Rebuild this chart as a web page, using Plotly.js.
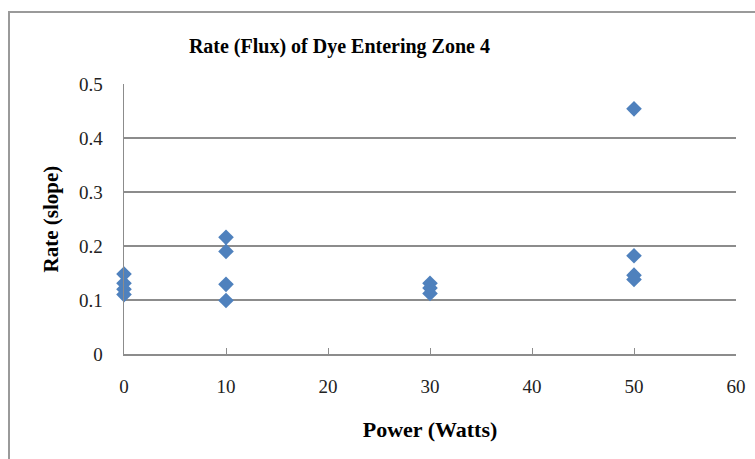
<!DOCTYPE html>
<html>
<head>
<meta charset="utf-8">
<script src="https://cdn.plot.ly/plotly-3.0.1.min.js"></script>
<style>
  html, body { margin: 0; padding: 0; background: #ffffff; }
  #chart { width: 755px; height: 459px; }
</style>
</head>
<body>
<div id="chart"></div>
<script>
// Measured dye flux into zone 4 at each heater power setting
const powerWatts = [0, 0, 0, 0, 10, 10, 10, 10, 30, 30, 30, 50, 50, 50, 50];
const rateSlope  = [0.148, 0.131, 0.120, 0.110,
                    0.216, 0.190, 0.129, 0.099,
                    0.131, 0.122, 0.112,
                    0.454, 0.182, 0.146, 0.138];
const xTicks = [0, 10, 20, 30, 40, 50, 60];
const yTicks = [0, 0.1, 0.2, 0.3, 0.4, 0.5];

const serif = "Liberation Serif, DejaVu Serif, serif";
const gridGray = "#8c8c8c";

const trace = {
  type: "scatter",
  mode: "markers",
  x: powerWatts,
  y: rateSlope,
  cliponaxis: false,
  marker: { symbol: "diamond", size: 12, color: "#4F81BD", line: { width: 0 } },
  hoverinfo: "x+y"
};

const layout = {
  width: 755,
  height: 459,
  margin: { l: 124, r: 19, t: 84, b: 105 },
  paper_bgcolor: "#ffffff",
  plot_bgcolor: "#ffffff",
  showlegend: false,
  title: {
    text: "<b>Rate (Flux) of Dye Entering Zone 4</b>",
    font: { family: serif, size: 20, color: "#000000" },
    x: 0.352, xref: "paper", xanchor: "center",
    y: 1 - 46 / 459, yref: "container", yanchor: "middle"
  },
  xaxis: {
    range: [0, 60],
    tickvals: xTicks,
    ticktext: xTicks.map(String),
    showgrid: false,
    zeroline: false,
    showline: true,
    linecolor: gridGray,
    linewidth: 1.5,
    ticks: "inside",
    ticklen: 6,
    tickcolor: gridGray,
    tickfont: { family: serif, size: 19, color: "#222222" },
    ticklabelstandoff: 15,
    title: {
      text: "<b>Power (Watts)</b>",
      font: { family: serif, size: 22, color: "#000000" },
      standoff: 25
    },
    fixedrange: true
  },
  yaxis: {
    range: [0, 0.5],
    tickvals: yTicks,
    ticktext: yTicks.map(String),
    showgrid: true,
    gridcolor: gridGray,
    gridwidth: 1.5,
    zeroline: false,
    showline: true,
    linecolor: gridGray,
    linewidth: 1.5,
    ticks: "",
    tickfont: { family: serif, size: 19, color: "#222222" },
    ticklabelstandoff: 16,
    title: {
      text: "<b>Rate (slope)</b>",
      font: { family: serif, size: 21, color: "#000000" },
      standoff: 14
    },
    fixedrange: true
  },
  shapes: [{
    type: "rect",
    xref: "paper", yref: "paper",
    x0: (9 - 124) / 612, x1: 1.2,
    y0: -0.6, y1: 1 + (84 - 12) / 270,
    line: { color: "#9a9a9a", width: 2 },
    fillcolor: "rgba(0,0,0,0)",
    layer: "below"
  }]
};

Plotly.newPlot("chart", [trace], layout, { displayModeBar: false, staticPlot: true });
</script>
</body>
</html>
